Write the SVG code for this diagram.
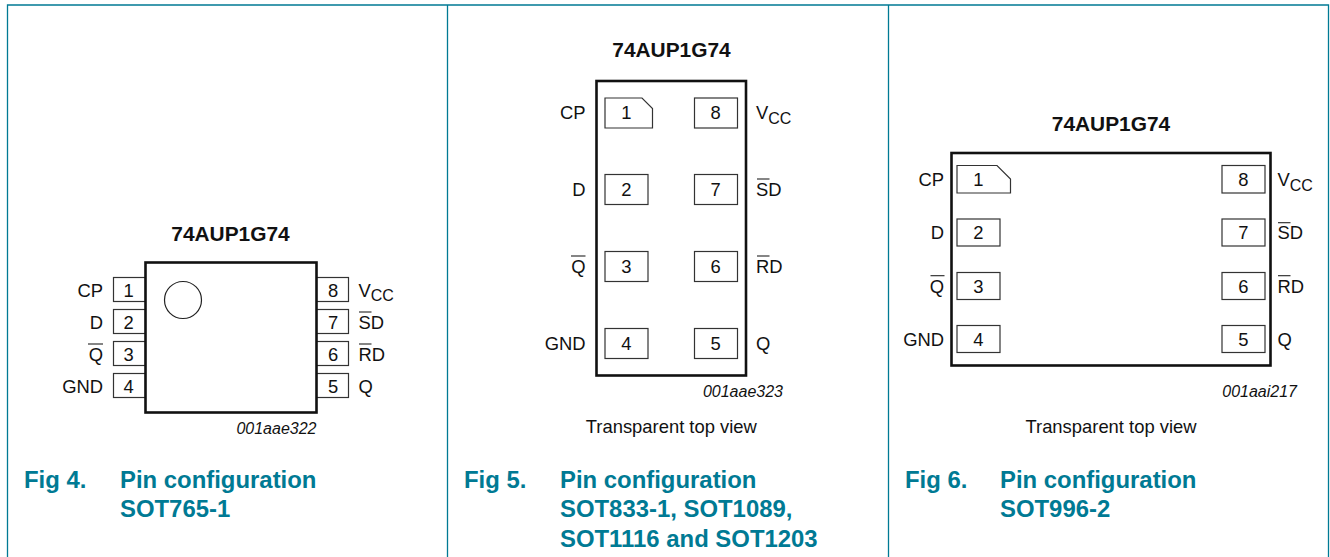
<svg xmlns="http://www.w3.org/2000/svg" width="1330" height="557" viewBox="0 0 1330 557">
<style>
text{font-family:"Liberation Sans",Arial,sans-serif;fill:#111}
.frame{fill:none;stroke:#007a94;stroke-width:1.3}
.body{fill:none;stroke:#111;stroke-width:2.6}
.pin{fill:#fff;stroke:#333;stroke-width:1.2}
.bar{stroke:#222;stroke-width:1.1}
.lab{font-size:18.4px}
.sub{font-size:16px}
.end{text-anchor:end}
.num{font-size:18.4px;text-anchor:middle}
.title{font-size:20.9px;font-weight:bold;text-anchor:middle}
.code{font-size:16px;font-style:italic;text-anchor:end}
.view{font-size:18.4px;text-anchor:middle}
.fig{font-size:23.9px;font-weight:bold;fill:#007a94}
</style>
<g id="frame">
<path class="frame" d="M7.5 557V5H1328.5V557M447.5 5V557M888.5 5V557"/>
</g>
<g id="connectors"/>
<g id="chip-fig4">
<text class="title" x="230.5" y="240.7">74AUP1G74</text>
<rect class="pin" x="113.5" y="277.5" width="32" height="24"/>
<rect class="pin" x="113.5" y="309.5" width="32" height="24"/>
<rect class="pin" x="113.5" y="341.5" width="32" height="24"/>
<rect class="pin" x="113.5" y="373.5" width="32" height="24"/>
<rect class="pin" x="316" y="277.5" width="32.5" height="24"/>
<rect class="pin" x="316" y="309.5" width="32.5" height="24"/>
<rect class="pin" x="316" y="341.5" width="32.5" height="24"/>
<rect class="pin" x="316" y="373.5" width="32.5" height="24"/>
<rect x="145.5" y="262.5" width="171" height="150" fill="#fff" stroke="#111" stroke-width="2.6"/>
<circle cx="183" cy="300" r="18.5" fill="none" stroke="#222" stroke-width="1.2"/>
<text class="num" x="128.5" y="296.6">1</text>
<text class="num" x="128.5" y="328.6">2</text>
<text class="num" x="128.5" y="360.6">3</text>
<text class="num" x="128.5" y="392.6">4</text>
<text class="num" x="333" y="296.6">8</text>
<text class="num" x="333" y="328.6">7</text>
<text class="num" x="333" y="360.6">6</text>
<text class="num" x="333" y="392.6">5</text>
<text class="lab end" x="103" y="296.6">CP</text>
<text class="lab end" x="103" y="328.6">D</text>
<text class="lab end" x="103" y="360.6">Q</text>
<text class="lab end" x="103" y="392.6">GND</text>
<line class="bar" x1="88" y1="344" x2="103" y2="344"/>
<text class="lab" x="358.5" y="296.6">V<tspan class="sub" dy="4.5">CC</tspan></text>
<text class="lab" x="358.5" y="328.6">SD</text>
<line class="bar" x1="359" y1="312" x2="371.5" y2="312"/>
<text class="lab" x="358.5" y="360.6">RD</text>
<line class="bar" x1="359" y1="344" x2="371.5" y2="344"/>
<text class="lab" x="358.5" y="392.6">Q</text>
<text class="code" x="316.5" y="434">001aae322</text>
</g>
<g id="caption-fig4">
<text class="fig" x="24" y="487.5">Fig 4.</text>
<text class="fig" x="120" y="487.5">Pin configuration</text>
<text class="fig" x="120" y="516.5">SOT765-1</text>
</g>
<g id="chip-fig5">
<text class="title" x="671.5" y="57.3">74AUP1G74</text>
<rect class="body" x="596.5" y="81" width="149.5" height="294.5"/>
<path class="pin" d="M605 98H642L652.5 108.5V128H605Z"/>
<rect class="pin" x="605" y="174.5" width="43" height="30"/>
<rect class="pin" x="605" y="251.5" width="43" height="30"/>
<rect class="pin" x="605" y="328.5" width="43" height="30"/>
<rect class="pin" x="694.5" y="98" width="43" height="30"/>
<rect class="pin" x="694.5" y="174.5" width="43" height="30"/>
<rect class="pin" x="694.5" y="251.5" width="43" height="30"/>
<rect class="pin" x="694.5" y="328.5" width="43" height="30"/>
<text class="num" x="626.3" y="119">1</text>
<text class="num" x="626.3" y="196">2</text>
<text class="num" x="626.3" y="273">3</text>
<text class="num" x="626.3" y="350">4</text>
<text class="num" x="715.7" y="119">8</text>
<text class="num" x="715.7" y="196">7</text>
<text class="num" x="715.7" y="273">6</text>
<text class="num" x="715.7" y="350">5</text>
<text class="lab end" x="585.5" y="119">CP</text>
<text class="lab end" x="585.5" y="196">D</text>
<text class="lab end" x="585.5" y="273">Q</text>
<text class="lab end" x="585.5" y="350">GND</text>
<line class="bar" x1="571" y1="256" x2="585.5" y2="256"/>
<text class="lab" x="756" y="119">V<tspan class="sub" dy="4.5">CC</tspan></text>
<text class="lab" x="756" y="196">SD</text>
<line class="bar" x1="757" y1="179" x2="769.5" y2="179"/>
<text class="lab" x="756" y="273">RD</text>
<line class="bar" x1="757" y1="256" x2="769.5" y2="256"/>
<text class="lab" x="756" y="350">Q</text>
<text class="code" x="783" y="397">001aae323</text>
<text class="view" x="671.3" y="433">Transparent top view</text>
</g>
<g id="caption-fig5">
<text class="fig" x="464" y="487.5">Fig 5.</text>
<text class="fig" x="560" y="487.5">Pin configuration</text>
<text class="fig" x="560" y="516.5">SOT833-1, SOT1089,</text>
<text class="fig" x="560" y="546.5">SOT1116 and SOT1203</text>
</g>
<g id="chip-fig6">
<text class="title" x="1111" y="131">74AUP1G74</text>
<rect class="body" x="951.5" y="153" width="319" height="212.5"/>
<path class="pin" d="M957 165.5H997L1010.5 179V193H957Z"/>
<rect class="pin" x="957" y="219" width="43" height="27"/>
<rect class="pin" x="957" y="272.5" width="43" height="27"/>
<rect class="pin" x="957" y="325.5" width="43" height="27"/>
<rect class="pin" x="1222" y="165.5" width="43" height="27.5"/>
<rect class="pin" x="1222" y="219" width="43" height="27"/>
<rect class="pin" x="1222" y="272.5" width="43" height="27"/>
<rect class="pin" x="1222" y="325.5" width="43" height="27"/>
<text class="num" x="978.3" y="186">1</text>
<text class="num" x="978.3" y="239">2</text>
<text class="num" x="978.3" y="292.5">3</text>
<text class="num" x="978.3" y="346">4</text>
<text class="num" x="1243.3" y="186">8</text>
<text class="num" x="1243.3" y="239">7</text>
<text class="num" x="1243.3" y="292.5">6</text>
<text class="num" x="1243.3" y="346">5</text>
<text class="lab end" x="944" y="186">CP</text>
<text class="lab end" x="944" y="239">D</text>
<text class="lab end" x="944" y="292.5">Q</text>
<text class="lab end" x="944" y="346">GND</text>
<line class="bar" x1="930.5" y1="275.7" x2="944.5" y2="275.7"/>
<text class="lab" x="1277.5" y="186">V<tspan class="sub" dy="4.5">CC</tspan></text>
<text class="lab" x="1277.5" y="239">SD</text>
<line class="bar" x1="1278" y1="222.7" x2="1290.5" y2="222.7"/>
<text class="lab" x="1277.5" y="292.5">RD</text>
<line class="bar" x1="1278" y1="275.7" x2="1290.5" y2="275.7"/>
<text class="lab" x="1277.5" y="346">Q</text>
<text class="code" x="1297" y="397">001aai217</text>
<text class="view" x="1111" y="433">Transparent top view</text>
</g>
<g id="caption-fig6">
<text class="fig" x="905" y="487.5">Fig 6.</text>
<text class="fig" x="1000" y="487.5">Pin configuration</text>
<text class="fig" x="1000" y="516.5">SOT996-2</text>
</g>
</svg>
